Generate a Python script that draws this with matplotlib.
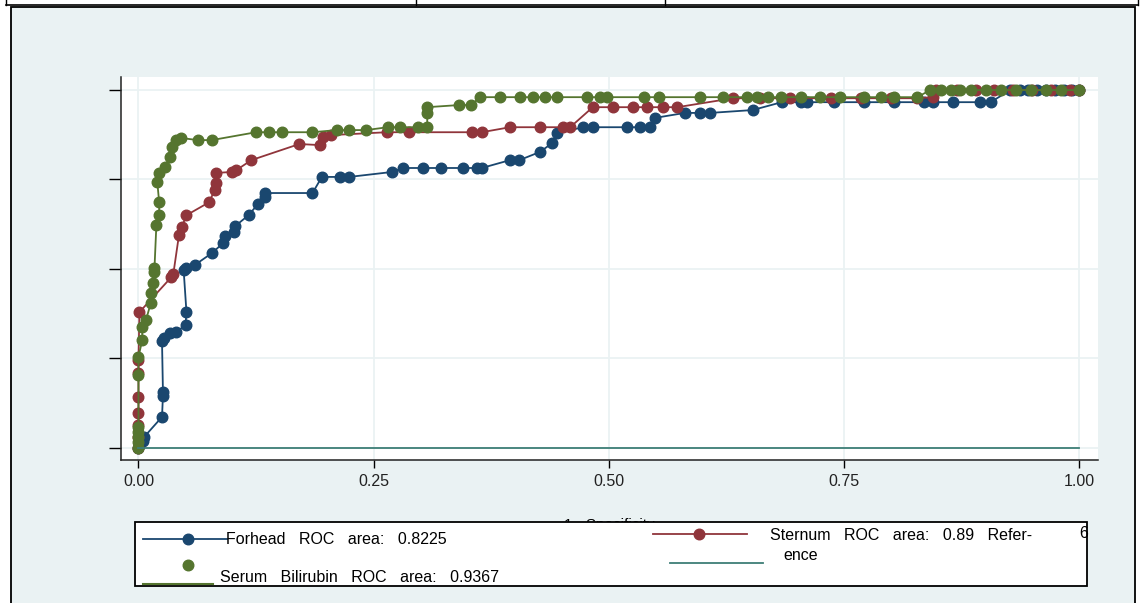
import matplotlib
matplotlib.use("Agg")
from matplotlib import pyplot as plt
from matplotlib.lines import Line2D
from matplotlib.patches import Rectangle

plt.rcParams['font.family'] = ['Liberation Sans', 'DejaVu Sans']

# ROC curves (x = 1 - specificity, y = sensitivity)
forhead_x = [0.0, 0.001, 0.005, 0.006, 0.025, 0.026, 0.026, 0.025, 0.027, 0.033,
             0.040, 0.050, 0.051, 0.048, 0.051, 0.060, 0.078, 0.090, 0.092, 0.102,
             0.103, 0.117, 0.127, 0.134, 0.135, 0.185, 0.195, 0.214, 0.224, 0.270,
             0.281, 0.302, 0.322, 0.345, 0.360, 0.365, 0.395, 0.405, 0.427, 0.440,
             0.445, 0.473, 0.483, 0.519, 0.533, 0.544, 0.549, 0.581, 0.597, 0.608,
             0.653, 0.684, 0.704, 0.711, 0.739, 0.771, 0.803, 0.835, 0.845, 0.866,
             0.895, 0.906, 0.927, 0.937, 0.946, 0.955, 0.965, 0.974, 0.984, 0.993,
             1.0]
forhead_y = [0.0, 0.008, 0.019, 0.030, 0.086, 0.145, 0.156, 0.298, 0.307, 0.321,
             0.323, 0.343, 0.379, 0.497, 0.502, 0.511, 0.544, 0.572, 0.592, 0.603,
             0.620, 0.650, 0.681, 0.700, 0.712, 0.712, 0.757, 0.757, 0.757, 0.771,
             0.782, 0.782, 0.782, 0.782, 0.782, 0.782, 0.804, 0.804, 0.827, 0.852,
             0.880, 0.896, 0.896, 0.896, 0.896, 0.896, 0.922, 0.936, 0.936, 0.936,
             0.944, 0.966, 0.966, 0.966, 0.966, 0.966, 0.966, 0.966, 0.966, 0.966,
             0.966, 0.966, 1.0, 1.0, 1.0, 1.0, 1.0, 1.0, 1.0, 1.0,
             1.0]

sternum_x = [0.0, 0.0, 0.0, 0.0, 0.0, 0.0, 0.0, 0.001, 0.035, 0.037,
             0.043, 0.046, 0.051, 0.075, 0.081, 0.082, 0.082, 0.099, 0.104, 0.120,
             0.171, 0.193, 0.196, 0.205, 0.264, 0.288, 0.355, 0.365, 0.395, 0.427,
             0.451, 0.459, 0.483, 0.505, 0.526, 0.541, 0.558, 0.573, 0.632, 0.661,
             0.693, 0.736, 0.768, 0.800, 0.828, 0.845, 0.848, 0.870, 0.890, 0.910,
             0.930, 0.950, 0.970, 0.990, 1.0]
sternum_y = [0.0, 0.030, 0.064, 0.097, 0.142, 0.209, 0.245, 0.379, 0.477, 0.485,
             0.594, 0.617, 0.650, 0.686, 0.720, 0.739, 0.768, 0.771, 0.776, 0.804,
             0.849, 0.846, 0.868, 0.874, 0.882, 0.882, 0.882, 0.882, 0.896, 0.896,
             0.896, 0.896, 0.952, 0.952, 0.952, 0.952, 0.952, 0.952, 0.977, 0.977,
             0.977, 0.977, 0.977, 0.977, 0.977, 0.980, 1.0, 1.0, 1.0, 1.0,
             1.0, 1.0, 1.0, 1.0, 1.0]

serum_x = [0.0, 0.0, 0.0, 0.0, 0.0, 0.0, 0.0, 0.004, 0.004, 0.008,
           0.013, 0.013, 0.015, 0.017, 0.017, 0.019, 0.022, 0.022, 0.020, 0.022,
           0.028, 0.033, 0.036, 0.040, 0.045, 0.063, 0.078, 0.125, 0.139, 0.153,
           0.185, 0.211, 0.224, 0.242, 0.265, 0.278, 0.297, 0.307, 0.307, 0.307,
           0.341, 0.354, 0.363, 0.384, 0.406, 0.419, 0.432, 0.445, 0.477, 0.491,
           0.498, 0.537, 0.553, 0.597, 0.622, 0.647, 0.658, 0.669, 0.683, 0.704,
           0.725, 0.746, 0.771, 0.789, 0.803, 0.828, 0.842, 0.853, 0.864, 0.874,
           0.885, 0.901, 0.917, 0.933, 0.949, 0.965, 0.981, 1.0]
serum_y = [0.0, 0.015, 0.030, 0.044, 0.058, 0.203, 0.254, 0.301, 0.337, 0.357,
           0.404, 0.432, 0.460, 0.491, 0.502, 0.622, 0.650, 0.686, 0.742, 0.768,
           0.784, 0.812, 0.840, 0.860, 0.866, 0.860, 0.860, 0.882, 0.882, 0.882,
           0.882, 0.888, 0.888, 0.888, 0.896, 0.896, 0.896, 0.896, 0.936, 0.952,
           0.958, 0.958, 0.980, 0.980, 0.980, 0.980, 0.980, 0.980, 0.980, 0.980,
           0.980, 0.980, 0.980, 0.980, 0.980, 0.980, 0.980, 0.980, 0.980, 0.980,
           0.980, 0.980, 0.980, 0.980, 0.980, 0.980, 1.0, 1.0, 1.0, 1.0,
           1.0, 1.0, 1.0, 1.0, 1.0, 1.0, 1.0, 1.0]

ref_x = [0.0, 1.0]
ref_y = [0.0, 0.0]

x_ticks = [0.0, 0.25, 0.5, 0.75, 1.0]
x_labels = ["0.00", "0.25", "0.50", "0.75", "1.00"]
y_ticks = [0.0, 0.25, 0.5, 0.75, 1.0]

labels = ["Forhead   ROC   area:   0.8225",
          "Sternum   ROC   area:   0.89   Refer-",
          "Serum   Bilirubin   ROC   area:   0.9367",
          "ence"]

navy = "#1a476f"
maroon = "#90353b"
green = "#55752f"
teal = "#3e7e76"
bg = "#eaf2f3"
MS = 7.6

W, H = 1148, 603
fig = plt.figure(figsize=(W / 100, H / 100), dpi=100, facecolor="white")


def fx(px):
    return px / W


def fy(py):
    return 1 - py / H


# outer frame / table lines
fig.add_artist(Rectangle((fx(11), fy(610)), fx(1135) - fx(11), fy(7) - fy(610),
                         transform=fig.transFigure, facecolor=bg, edgecolor="black",
                         lw=1.3, zorder=-5))
fig.add_artist(Line2D([fx(6), fx(1138)], [fy(4.5), fy(4.5)], transform=fig.transFigure,
                      color="black", lw=1.2))
for xx in [6, 416, 665, 1138]:
    fig.add_artist(Line2D([fx(xx), fx(xx)], [fy(0), fy(4.5)], transform=fig.transFigure,
                          color="black", lw=1.0))

ax = fig.add_axes([fx(121), fy(460), fx(1098) - fx(121), fy(77) - fy(460)])
ax.set_facecolor("white")

ax.plot(forhead_x, forhead_y, color=navy, marker="o", ms=MS, lw=1.3)
ax.plot(sternum_x, sternum_y, color=maroon, marker="o", ms=MS, lw=1.3)
ax.plot(serum_x, serum_y, color=green, marker="o", ms=MS, lw=1.3)
ax.plot(ref_x, ref_y, color=teal, lw=1.3)

ax.set_xlim(-0.0186, 1.0202)
ax.set_ylim(-0.0344, 1.0364)
ax.set_xticks(x_ticks)
ax.set_xticklabels(x_labels, fontsize=11.5, color="#222222")
ax.set_yticks(y_ticks)
ax.set_yticklabels([])
ax.tick_params(axis="x", length=6, width=1, pad=4)
ax.tick_params(axis="y", length=9, width=1)
ax.grid(True, color=bg, lw=1.3)
ax.set_axisbelow(True)
for s in ["top", "right"]:
    ax.spines[s].set_visible(False)
for s in ["left", "bottom"]:
    ax.spines[s].set_color("#222222")
    ax.spines[s].set_linewidth(1.1)

# x-axis title, mostly hidden behind the legend box
fig.text(fx(609), fy(518), "1 - Specificity", ha="center", va="top", fontsize=11, zorder=1)

# legend box
fig.add_artist(Rectangle((fx(135), fy(585.5)), fx(1087) - fx(135), fy(521.5) - fy(585.5),
                         transform=fig.transFigure, facecolor="white", edgecolor="black",
                         lw=1.3, zorder=4))
fig.add_artist(Line2D([fx(143), fx(227)], [fy(539), fy(539)], transform=fig.transFigure,
                      color=navy, lw=1.3, zorder=5))
fig.add_artist(Line2D([fx(188)], [fy(539)], transform=fig.transFigure, color=navy,
                      marker="o", ms=MS, zorder=5))
fig.add_artist(Line2D([fx(653), fx(747)], [fy(534), fy(534)], transform=fig.transFigure,
                      color=maroon, lw=1.3, zorder=5))
fig.add_artist(Line2D([fx(699)], [fy(534)], transform=fig.transFigure, color=maroon,
                      marker="o", ms=MS, zorder=5))
fig.add_artist(Line2D([fx(670), fx(763)], [fy(563), fy(563)], transform=fig.transFigure,
                      color=teal, lw=1.3, zorder=5))
fig.add_artist(Line2D([fx(188)], [fy(565)], transform=fig.transFigure, color=green,
                      marker="o", ms=MS, zorder=5))
fig.add_artist(Line2D([fx(143), fx(213)], [fy(584), fy(584)], transform=fig.transFigure,
                      color=green, lw=1.5, zorder=5))

fig.text(fx(226), fy(539), labels[0], ha="left", va="center", fontsize=11.5, zorder=6)
fig.text(fx(770), fy(535), labels[1], ha="left", va="center", fontsize=11.5, zorder=6)
fig.text(fx(220), fy(577), labels[2], ha="left", va="center", fontsize=11.5, zorder=6)
fig.text(fx(783), fy(555), labels[3], ha="left", va="center", fontsize=11.5, zorder=6)
fig.text(fx(1084), fy(534), "6", ha="center", va="center", fontsize=11.5, zorder=6)

fig.savefig("out.png", dpi=100, facecolor="white")
